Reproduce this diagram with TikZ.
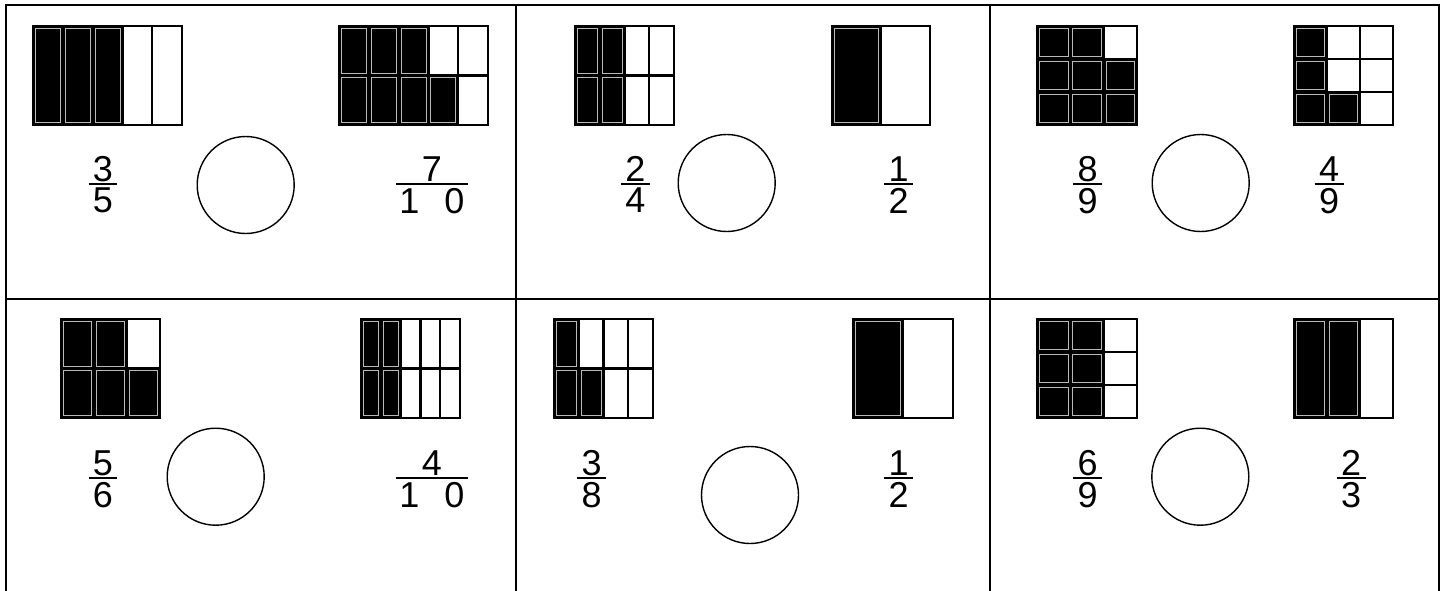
\documentclass[tikz,border=0pt]{standalone}
\usepackage{fontspec}
\setmainfont{Liberation Sans}
\tikzset{
  tbl/.style={line width=2.6pt, line cap=rect},
  gline/.style={line width=2.2pt},
  cellfill/.style={fill=black},
  cellgray/.style={draw=gray!55, line width=0.9pt},
  cmp/.style={circle, draw, line width=1.4pt, minimum size=97pt, inner sep=0pt},
  fnum/.style={inner sep=0pt, font=\fontsize{36}{40}\selectfont},
  fbar/.style={line width=2.1pt}
}
% x0,y0,x1,y1,cols,rows,filled cells c/r
\newcommand\fgrid[7]{%
  \pgfmathsetmacro\cw{(#3-#1)/#5}%
  \pgfmathsetmacro\rh{(#4-#2)/#6}%
  \foreach \ci/\ri in {#7}{%
    \fill[cellfill] ({#1+(\ci-1)*\cw},{#2+(\ri-1)*\rh}) rectangle ({#1+\ci*\cw},{#2+\ri*\rh});
    \draw[cellgray] ({#1+(\ci-1)*\cw+2.4},{#2+(\ri-1)*\rh+2.4}) rectangle ({#1+\ci*\cw-2.4},{#2+\ri*\rh-2.4});
  }%
  \ifnum#5>1
    \foreach \ii in {2,...,#5}{\draw[gline] ({#1+(\ii-1)*\cw},#2) -- ({#1+(\ii-1)*\cw},#4);}%
  \fi
  \ifnum#6>1
    \foreach \jj in {2,...,#6}{\draw[gline] (#1,{#2+(\jj-1)*\rh}) -- (#3,{#2+(\jj-1)*\rh});}%
  \fi
  \draw[gline] (#1,#2) rectangle (#3,#4);
}
% name, x, bar y, numerator, denominator, bar width
\newcommand\frc[6]{%
  \node[fnum, anchor=base] (#1n) at (#2,#3-3) {#4};
  \node[fnum, anchor=north] (#1d) at (#2,#3+3.8) {#5};
  \draw[fbar] ({#2-#6/2},#3) -- ({#2+#6/2},#3);
}
\begin{document}
\begin{tikzpicture}[x=1pt,y=-1pt]
\useasboundingbox (0,0) rectangle (1447,590);
% table
\draw[tbl] (6,600) -- (6,5) -- (1439,5) -- (1439,600);
\draw[tbl] (6,299) -- (1439,299);
\draw[tbl] (516,5) -- (516,600);
\draw[tbl] (990,5) -- (990,600);
% grids
\fgrid{33}{26}{182}{125}{5}{1}{1/1,2/1,3/1}
\fgrid{339}{26}{488}{125}{5}{2}{1/1,2/1,3/1,1/2,2/2,3/2,4/2}
\fgrid{575}{26}{674}{125}{4}{2}{1/1,2/1,1/2,2/2}
\fgrid{832}{26}{930}{125}{2}{1}{1/1}
\fgrid{1037}{26}{1137}{125}{3}{3}{1/1,2/1,1/2,2/2,3/2,1/3,2/3,3/3}
\fgrid{1294}{26}{1393}{125}{3}{3}{1/1,1/2,1/3,2/3}
\fgrid{61}{319}{160}{418}{3}{2}{1/1,2/1,1/2,2/2,3/2}
\fgrid{361}{319}{460}{418}{5}{2}{1/1,2/1,1/2,2/2}
\fgrid{554}{319}{653}{418}{4}{2}{1/1,1/2,2/2}
\fgrid{853}{319}{953}{418}{2}{1}{1/1}
\fgrid{1037}{319}{1137}{418}{3}{3}{1/1,2/1,1/2,2/2,1/3,2/3}
\fgrid{1294}{319}{1393}{418}{3}{1}{1/1,2/1}
% circles
\node[cmp] (c1) at (245.7,185) {};
\node[cmp] (c2) at (726.7,183) {};
\node[cmp] (c3) at (1200.7,183) {};
\node[cmp] (c4) at (215.7,476.7) {};
\node[cmp] (c5) at (750,495) {};
\node[cmp] (c6) at (1200.3,476.7) {};
% fractions
\frc{f1}{103}{184}{3}{5}{28}
\frc{f2}{432}{184}{7}{1\hspace{25pt}0}{72}
\frc{f3}{635.5}{184}{2}{4}{29}
\frc{f4}{898.5}{184}{1}{2}{29}
\frc{f5}{1087.5}{184}{8}{9}{29}
\frc{f6}{1329}{184}{4}{9}{29}
\frc{f7}{103}{478}{5}{6}{28}
\frc{f8}{432}{478}{4}{1\hspace{25pt}0}{72}
\frc{f9}{591.7}{478}{3}{8}{29}
\frc{f10}{898.5}{478}{1}{2}{29}
\frc{f11}{1087.5}{478}{6}{9}{29}
\frc{f12}{1351}{478}{2}{3}{29}
\end{tikzpicture}
\end{document}
